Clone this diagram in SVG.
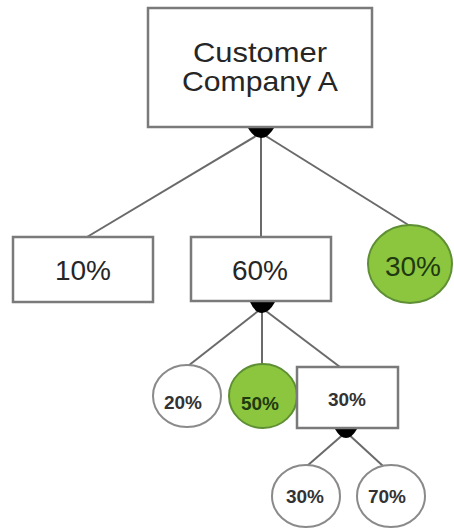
<svg xmlns="http://www.w3.org/2000/svg" width="454" height="529" viewBox="0 0 454 529">
<style>
.box{fill:#fff;stroke:#7a7a7a;stroke-width:2.5}
.wc{fill:#fff;stroke:#8a8a8a;stroke-width:2}
.gc{fill:#8cc63e;stroke:#5f8f34;stroke-width:2}
.t{font-family:"Liberation Sans",Arial,sans-serif;fill:#262626;text-anchor:middle}
.big{font-size:28px}
.sm{font-size:19px;font-weight:bold;fill:#333}
.gt{fill:#1f3a10}
.ln{stroke:#6a6a6a;stroke-width:2;fill:none}
.jn{fill:#000}
</style>
<rect width="454" height="529" fill="#fff"/>
<g id="connectors">
<line class="ln" x1="261" y1="133" x2="87" y2="237"/>
<line class="ln" x1="261" y1="133" x2="261" y2="237"/>
<line class="ln" x1="261" y1="133" x2="410" y2="226"/>
<line class="ln" x1="262" y1="308" x2="188" y2="366"/>
<line class="ln" x1="262" y1="308" x2="262" y2="365"/>
<line class="ln" x1="262" y1="308" x2="340" y2="367"/>
<line class="ln" x1="346" y1="432" x2="307" y2="466"/>
<line class="ln" x1="346" y1="432" x2="383" y2="466"/>
<path class="jn" d="M248,128 L274,128 Q268,138 261,138 Q254,138 248,128 Z"/>
<path class="jn" d="M250,302 L275,302 Q269,313 262,313 Q255,313 250,302 Z"/>
<path class="jn" d="M335,429 L357,429 Q352,438 346,438 Q340,438 335,429 Z"/>
</g>
<g id="customer">
<rect class="box" x="148" y="8" width="224" height="119"/>
<text class="t big" x="260" y="62" textLength="134" lengthAdjust="spacingAndGlyphs">Customer</text>
<text class="t big" x="260" y="91" textLength="156" lengthAdjust="spacingAndGlyphs">Company A</text>
</g>
<g id="n10">
<rect class="box" x="13" y="237" width="140" height="65"/>
<text class="t big" x="83" y="280">10%</text>
</g>
<g id="n60">
<rect class="box" x="191" y="237" width="140" height="64"/>
<text class="t big" x="260" y="280">60%</text>
</g>
<g id="n30g">
<ellipse class="gc" cx="410" cy="264" rx="42" ry="39"/>
<text class="t big gt" x="413" y="276">30%</text>
</g>
<g id="n20">
<ellipse class="wc" cx="187" cy="396" rx="34" ry="31"/>
<text class="t sm" x="183" y="409">20%</text>
</g>
<g id="n50">
<ellipse class="gc" cx="263" cy="396" rx="34" ry="32"/>
<text class="t sm gt" x="260" y="410">50%</text>
</g>
<g id="n30b">
<rect class="box" x="297" y="367" width="101" height="61"/>
<text class="t sm" x="347" y="406">30%</text>
</g>
<g id="n30c">
<ellipse class="wc" cx="306" cy="496" rx="34" ry="31"/>
<text class="t sm" x="305" y="503">30%</text>
</g>
<g id="n70">
<ellipse class="wc" cx="391" cy="496" rx="34" ry="31"/>
<text class="t sm" x="387" y="503">70%</text>
</g>
</svg>
